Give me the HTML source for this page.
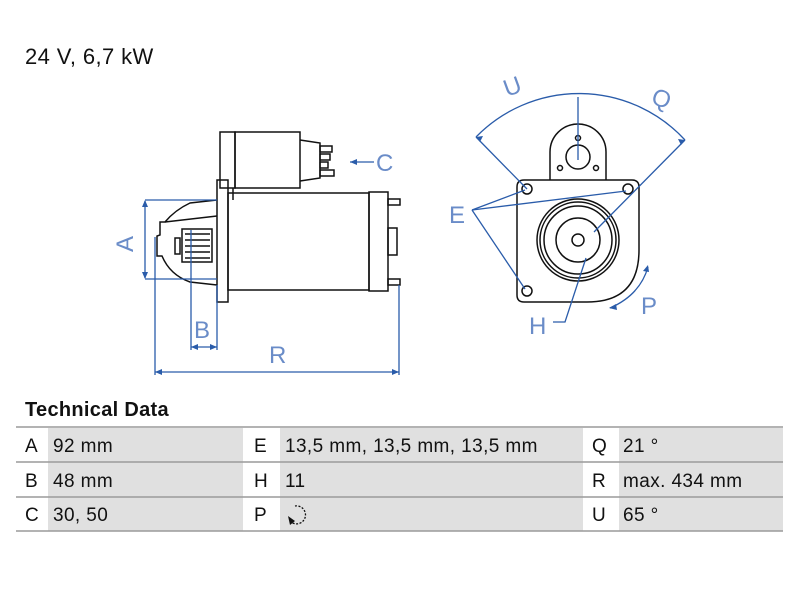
<!DOCTYPE html>
<html><head><meta charset="utf-8"><style>
body{margin:0;background:#fff;width:800px;height:600px;overflow:hidden;position:relative;font-family:"Liberation Sans",sans-serif;}
.t{position:absolute;color:#111;white-space:nowrap;}
</style></head><body>
<div class="t" style="left:25px;top:44px;font-size:22px;letter-spacing:0.4px;">24 V, 6,7 kW</div>
<div class="t" style="left:25px;top:399px;font-size:20px;font-weight:bold;letter-spacing:0.3px;">Technical Data</div>

<svg width="800" height="600" style="position:absolute;left:0;top:0" xmlns="http://www.w3.org/2000/svg">
<g>
<rect x="48" y="428" width="195" height="103" fill="#e0e0e0"/>
<rect x="280" y="428" width="303" height="103" fill="#e0e0e0"/>
<rect x="619" y="428" width="164" height="103" fill="#e0e0e0"/>
<g stroke="#9a9a9a" stroke-width="1.5">
<line x1="16" y1="427" x2="783" y2="427"/>
<line x1="16" y1="462" x2="783" y2="462"/>
<line x1="16" y1="497" x2="783" y2="497"/>
<line x1="16" y1="531" x2="783" y2="531"/>
</g>
<g font-family="Liberation Sans, sans-serif" font-size="19" fill="#111" letter-spacing="0.4">
<text x="25" y="452">A</text><text x="53" y="452">92 mm</text>
<text x="254" y="452">E</text><text x="285" y="452">13,5 mm, 13,5 mm, 13,5 mm</text>
<text x="592" y="452">Q</text><text x="623" y="452">21 °</text>
<text x="25" y="487">B</text><text x="53" y="487">48 mm</text>
<text x="254" y="487">H</text><text x="285" y="487">11</text>
<text x="592" y="487">R</text><text x="623" y="487">max. 434 mm</text>
<text x="25" y="521">C</text><text x="53" y="521">30, 50</text>
<text x="254" y="521">P</text>
<text x="592" y="521">U</text><text x="623" y="521">65 °</text>
</g>
<path d="M295 506 A9 9 0 1 1 291 522" fill="none" stroke="#111" stroke-width="1.3" stroke-dasharray="2 1.5"/>
<path d="M288 516 L290 525 L295 521 Z" fill="#111"/>
</g>

<g fill="none" stroke="#111" stroke-width="1.5">
<rect x="235" y="132" width="65" height="56"/>
<rect x="220" y="132" width="15" height="56"/>
<path d="M300 140 L320 143 L320 178 L300 181"/>
<rect x="320" y="146" width="12" height="6"/><rect x="320" y="154" width="10" height="6"/>
<rect x="320" y="162" width="8" height="6"/><rect x="320" y="170" width="14" height="6"/>
<rect x="217" y="180" width="11" height="122"/>
<line x1="233" y1="188" x2="233" y2="200"/>
<rect x="228" y="193" width="141" height="97"/>
<rect x="369" y="192" width="19" height="99"/>
<rect x="388" y="199" width="12" height="6"/><rect x="388" y="279" width="12" height="6"/>
<rect x="388" y="228" width="9" height="27"/>
<path d="M217 200 L190 203 Q175 210 165 222 L160 222 L160 235 L157 236 L157 256 L162 256 Q170 275 190 282 L217 285"/>
<path d="M165 222 L217 216"/>
<path d="M175 238 L175 254 L180 254 L180 238 Z"/>
<rect x="182" y="229" width="30" height="33"/>
<line x1="185" y1="234" x2="210" y2="234"/><line x1="185" y1="240" x2="210" y2="240"/>
<line x1="185" y1="246" x2="210" y2="246"/><line x1="185" y1="252" x2="210" y2="252"/>
<line x1="185" y1="258" x2="210" y2="258"/>
</g>
<g fill="none" stroke="#2a5caa" stroke-width="1.3">
<line x1="145" y1="200" x2="217" y2="200"/><line x1="145" y1="279" x2="217" y2="279"/>
<line x1="145" y1="201" x2="145" y2="278"/>
<line x1="191" y1="230" x2="191" y2="350"/><line x1="217" y1="285" x2="217" y2="350"/>
<line x1="191" y1="347" x2="217" y2="347"/>
<line x1="155" y1="237" x2="155" y2="375"/><line x1="399" y1="285" x2="399" y2="375"/>
<line x1="155" y1="372" x2="399" y2="372"/>
<line x1="350" y1="162" x2="374" y2="162"/>
</g>
<g fill="#2a5caa">
<path d="M145 200 l-3 7 h6z"/><path d="M145 279 l-3 -7 h6z"/>
<path d="M191 347 l7 -3 v6z"/><path d="M217 347 l-7 -3 v6z"/>
<path d="M155 372 l7 -3 v6z"/><path d="M399 372 l-7 -3 v6z"/>
<path d="M350 162 l7 -3 v6z"/>
</g>
<g font-family="Liberation Sans, sans-serif" font-size="24" fill="#6a8cc8">
<text x="0" y="0" transform="translate(133,252) rotate(-90)">A</text>
<text x="194" y="338">B</text>
<text x="269" y="363">R</text>
<text x="376" y="171">C</text>
</g>

<g fill="none" stroke="#111" stroke-width="1.5">
<path d="M550 180 L550 152 A28 28 0 0 1 606 152 L606 180"/>
<circle cx="578" cy="157" r="12"/>
<circle cx="578" cy="138" r="2.5"/><circle cx="560" cy="168" r="2.5"/><circle cx="596" cy="168" r="2.5"/>
<path d="M524 180 L632 180 Q639 180 639 187 L639 250 Q639 302 587 302 L524 302 Q517 302 517 295 L517 187 Q517 180 524 180 Z"/>
<circle cx="527" cy="189" r="5"/><circle cx="628" cy="189" r="5"/><circle cx="527" cy="291" r="5"/>
<circle cx="578" cy="240" r="41"/><circle cx="578" cy="240" r="38"/><circle cx="578" cy="240" r="34"/>
<circle cx="578" cy="240" r="22"/><circle cx="578" cy="240" r="6"/>
</g>
<g fill="none" stroke="#2a5caa" stroke-width="1.3">
<path d="M476 137 A144 144 0 0 1 685 140"/>
<line x1="476" y1="137" x2="527" y2="189"/>
<line x1="685" y1="140" x2="594" y2="232"/>
<line x1="578" y1="97" x2="578" y2="160"/>
<line x1="472" y1="210" x2="525" y2="190"/>
<line x1="472" y1="210" x2="626" y2="191"/>
<line x1="472" y1="210" x2="525" y2="289"/>
<polyline points="553,322 565,322 586,258"/>
<path d="M648 267 Q640 295 610 308"/>
</g>
<g fill="#2a5caa">
<path d="M476 137 l7 -1 l-3 6z"/><path d="M685 140 l-7 -1 l3 6z"/>
<path d="M648 265 l-5 6 l6 1z"/><path d="M609 308 l7 -4 l1 6z"/>
</g>
<g font-family="Liberation Sans, sans-serif" font-size="24" fill="#6a8cc8">
<text x="0" y="0" transform="translate(507,97) rotate(-20)">U</text>
<text x="0" y="0" transform="translate(650,103) rotate(20)">Q</text>
<text x="449" y="223">E</text>
<text x="529" y="334">H</text>
<text x="641" y="314">P</text>
</g>
</svg>
</body></html>
